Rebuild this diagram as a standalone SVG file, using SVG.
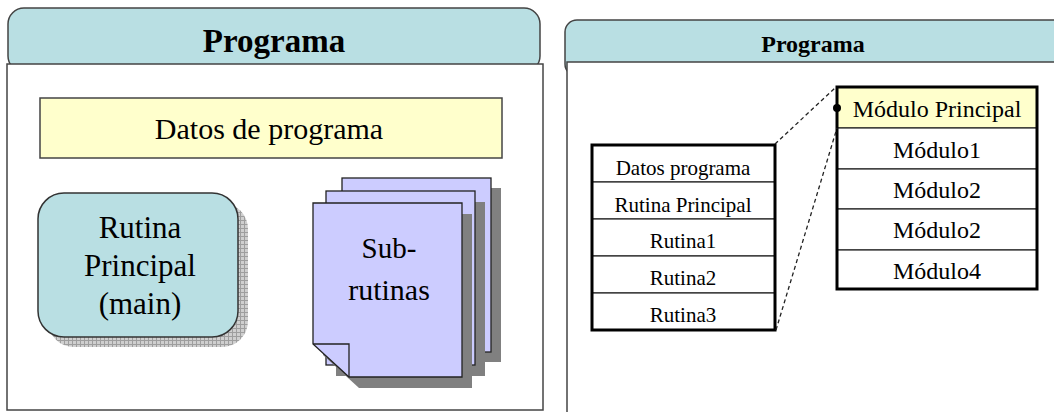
<svg xmlns="http://www.w3.org/2000/svg" width="1054" height="412" viewBox="0 0 1054 412">
<style>
.t{font-family:"Liberation Serif","Times New Roman",serif;fill:#000;text-anchor:middle}
.b{font-weight:bold}
.hdr{fill:#B9DFE3;stroke:#444;stroke-width:1.5}
.body{fill:#fff;stroke:#444;stroke-width:1.5}
.page{fill:#CCCCFF;stroke:#222;stroke-width:1.3}
.shadow{fill:#808080}
.cell{fill:#fff;stroke:#222;stroke-width:1.2}
.outer{fill:none;stroke:#000;stroke-width:3}
.dash{fill:none;stroke:#222;stroke-width:1.3;stroke-dasharray:4 3}
</style>
<defs>
<pattern id="chk" width="4" height="4" patternUnits="userSpaceOnUse">
<rect width="4" height="4" fill="#cfcfcf"/>
<path d="M0 0.5H4M0.5 0V4" stroke="#9e9e9e" stroke-width="1"/>
</pattern>
<polygon id="pg" points="0,0 149,0 149,174 36,174 0,141"/>
</defs>

<g id="left-panel">
<rect class="hdr" x="8" y="8" width="532" height="64" rx="16"/>
<rect class="body" x="7" y="64" width="536" height="346"/>
<text class="t b" x="274" y="52" font-size="33">Programa</text>
</g>

<g id="datos-programa">
<rect x="40" y="98" width="462" height="60" fill="#FFFFCC" stroke="#444" stroke-width="1.5"/>
<text class="t" x="269" y="139" font-size="30">Datos de programa</text>
</g>

<g id="rutina-principal">
<rect x="48" y="203" width="200" height="144" rx="26" fill="url(#chk)"/>
<rect x="38" y="193" width="200" height="144" rx="26" fill="#B9DFE3" stroke="#333" stroke-width="1.5"/>
<text class="t" x="140" y="238" font-size="31">Rutina</text>
<text class="t" x="140" y="276" font-size="31">Principal</text>
<text class="t" x="140" y="314" font-size="31">(main)</text>
</g>

<g id="subrutinas">
<rect class="shadow" x="352" y="188" width="149" height="174"/>
<rect class="page" x="342" y="178" width="149" height="174"/>
<rect class="shadow" x="336" y="202" width="149" height="174"/>
<rect class="page" x="326" y="191" width="149" height="174"/>
<use href="#pg" class="shadow" x="323" y="214"/>
<use href="#pg" class="page" x="313" y="203"/>
<polyline points="313,344 349,344 349,377" fill="none" stroke="#222" stroke-width="1.3"/>
<text class="t" x="389" y="258" font-size="29">Sub-</text>
<text class="t" x="389" y="300" font-size="30">rutinas</text>
</g>

<g id="right-panel">
<rect class="hdr" x="565" y="20" width="520" height="56" rx="12"/>
<rect class="body" x="567" y="62" width="520" height="360"/>
<text class="t b" x="813" y="52" font-size="24">Programa</text>
</g>

<g id="tabla-rutinas">
<rect class="cell" x="592" y="145" width="183" height="37"/>
<rect class="cell" x="592" y="182" width="183" height="37"/>
<rect class="cell" x="592" y="219" width="183" height="37"/>
<rect class="cell" x="592" y="256" width="183" height="37"/>
<rect class="cell" x="592" y="293" width="183" height="37"/>
<rect class="outer" x="592" y="145" width="183" height="185"/>
<text class="t" x="683" y="175" font-size="21">Datos programa</text>
<text class="t" x="683" y="212" font-size="21">Rutina Principal</text>
<text class="t" x="683" y="248" font-size="21">Rutina1</text>
<text class="t" x="683" y="285" font-size="21">Rutina2</text>
<text class="t" x="683" y="322" font-size="21">Rutina3</text>
</g>

<g id="tabla-modulos">
<rect x="837" y="87" width="200" height="41" fill="#FFFFCC" stroke="#222" stroke-width="1.2"/>
<rect class="cell" x="837" y="128" width="200" height="41"/>
<rect class="cell" x="837" y="169" width="200" height="40"/>
<rect class="cell" x="837" y="209" width="200" height="41"/>
<rect class="cell" x="837" y="250" width="200" height="39"/>
<rect class="outer" x="837" y="87" width="200" height="202"/>
<text class="t" x="937" y="117" font-size="24">Módulo Principal</text>
<text class="t" x="937" y="158" font-size="24">Módulo1</text>
<text class="t" x="937" y="198" font-size="24">Módulo2</text>
<text class="t" x="937" y="238" font-size="24">Módulo2</text>
<text class="t" x="937" y="279" font-size="24">Módulo4</text>
</g>

<g id="connectors">
<line class="dash" x1="775" y1="144" x2="836" y2="87"/>
<line class="dash" x1="776" y1="330" x2="837" y2="128"/>
<circle cx="837" cy="108" r="4" fill="#000"/>
</g>
</svg>
